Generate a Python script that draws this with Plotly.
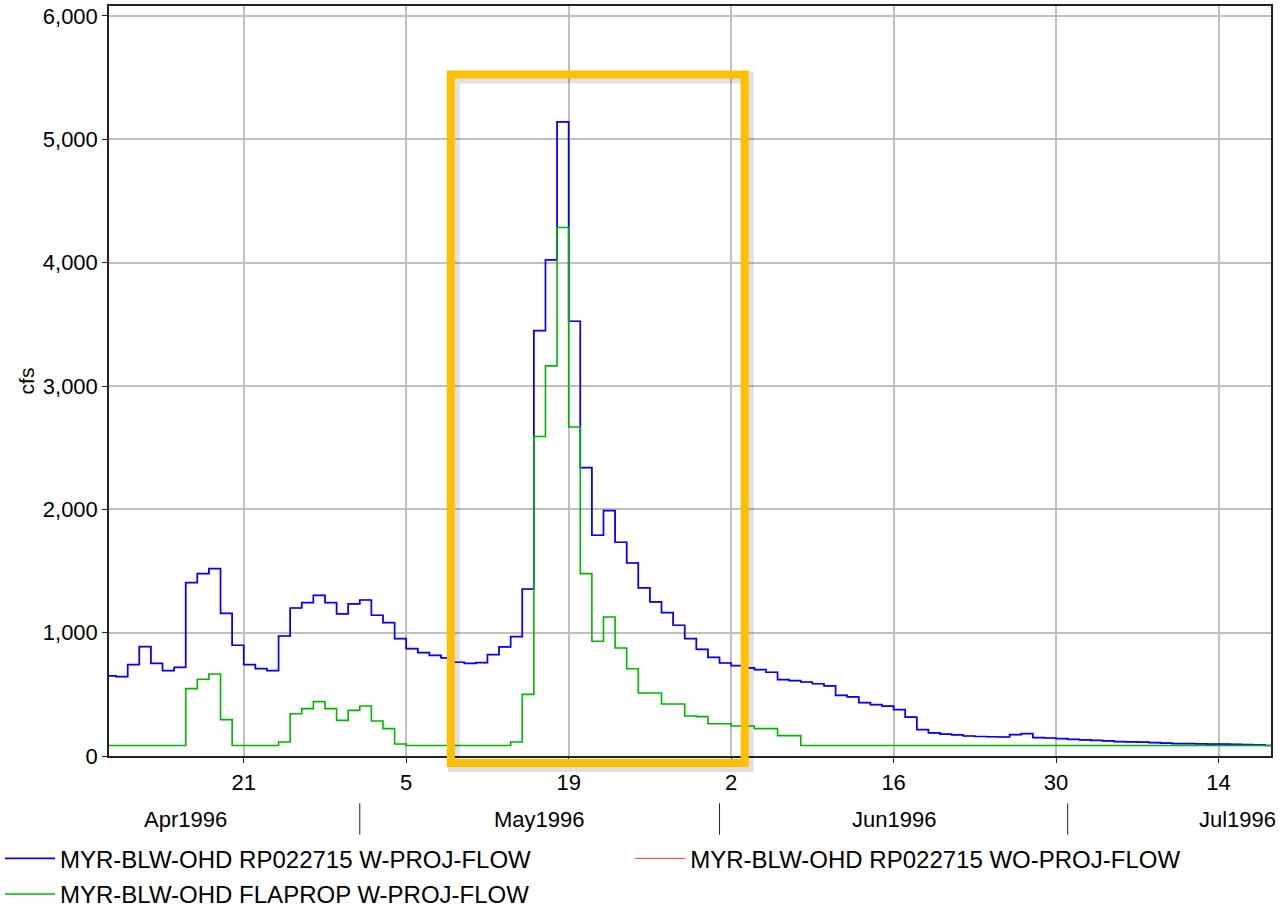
import pandas as pd
import plotly.graph_objects as go

# ---- data (daily flows, cfs) ----
start_date = "1996-04-09"

blue_values = [
    650, 643, 741, 887, 751, 692, 719, 1406, 1479, 1520, 1157, 898,          # Apr 9-20
    741, 709, 692, 973, 1200, 1244, 1303, 1244, 1152, 1233,                 # Apr 21-30
    1265, 1141, 1081, 951, 870, 838, 816, 795, 760, 751, 757, 822, 884, 968, # May 1-14
    1354, 3449, 4023, 5142, 3525, 2338, 1790, 1990, 1733, 1565, 1363, 1249,  # May 15-26
    1163, 1060, 952, 865, 800,                                              # May 27-31
    754, 733, 714, 700, 679, 619, 611, 600, 586, 568, 492, 479, 432, 416,    # Jun 1-14
    405, 376, 316, 214, 187, 178, 172, 162, 158, 156, 154, 173, 181, 149,    # Jun 15-28
    146, 141,                                                               # Jun 29-30
    135, 130, 127, 122, 116, 114, 112, 108, 105, 101, 100, 99, 97, 96, 95,   # Jul 1-15
    92, 90, 85,                                                             # Jul 16-18
]

# WO-PROJ flow coincides with the W-PROJ flow (hidden beneath the blue line)
red_values = [
    650, 643, 741, 887, 751, 692, 719, 1406, 1479, 1520, 1157, 898,
    741, 709, 692, 973, 1200, 1244, 1303, 1244, 1152, 1233,
    1265, 1141, 1081, 951, 870, 838, 816, 795, 760, 751, 757, 822, 884, 968,
    1354, 3449, 4023, 5142, 3525, 2338, 1790, 1990, 1733, 1565, 1363, 1249,
    1163, 1060, 952, 865, 800,
    754, 733, 714, 700, 679, 619, 611, 600, 586, 568, 492, 479, 432, 416,
    405, 376, 316, 214, 187, 178, 172, 162, 158, 156, 154, 173, 181, 149,
    146, 141,
    135, 130, 127, 122, 116, 114, 112, 108, 105, 101, 100, 99, 97, 96, 95,
    92, 90, 85,
]

green_values = [
    85, 85, 85, 85, 85, 85, 85, 546, 622, 665, 295, 85,                     # Apr 9-20
    85, 85, 85, 113, 343, 384, 441, 384, 289, 370,                          # Apr 21-30
    405, 284, 222, 97, 85, 85, 85, 85, 85, 85, 85, 85, 85, 113,              # May 1-14
    500, 2590, 3163, 4285, 2668, 1479, 930, 1127, 876, 708, 511, 511,        # May 15-26
    422, 422, 324, 319, 262,                                                # May 27-31
    262, 243, 243, 222, 222, 165, 165, 85, 85, 85, 85, 85, 85, 85,           # Jun 1-14
    85, 85, 85, 85, 85, 85, 85, 85, 85, 85, 85, 85, 85, 85,                  # Jun 15-28
    85, 85,                                                                 # Jun 29-30
    85, 85, 85, 85, 85, 85, 85, 85, 85, 85, 85, 85, 85, 85, 85,              # Jul 1-15
    85, 85, 85,                                                             # Jul 16-18
]

series_names = [
    "MYR-BLW-OHD RP022715 W-PROJ-FLOW",
    "MYR-BLW-OHD RP022715 WO-PROJ-FLOW",
    "MYR-BLW-OHD FLAPROP W-PROJ-FLOW",
]

tick_dates = ["1996-04-21", "1996-05-05", "1996-05-19", "1996-06-02",
              "1996-06-16", "1996-06-30", "1996-07-14"]
tick_labels = ["21", "5", "19", "2", "16", "30", "14"]

month_label_dates = ["1996-04-16", "1996-05-16 12:00", "1996-06-16", "1996-07-15 16:00"]
month_labels = ["Apr1996", "May1996", "Jun1996", "Jul1996"]
month_boundaries = ["1996-05-01", "1996-06-01", "1996-07-01"]

y_ticks = [0, 1000, 2000, 3000, 4000, 5000, 6000]

x_range = ["1996-04-09 09:20", "1996-07-18 12:30"]
y_range = [0, 6081]

highlight_x = ["1996-05-08 20:15", "1996-06-03 04:00"]

FONT = "Arial, Liberation Sans, sans-serif"


def step_xy(values):
    dates = pd.date_range(start_date, periods=len(values) + 1, freq="D")
    return list(dates), list(values) + [values[-1]]


fig = go.Figure()

xr, yr = step_xy(red_values)
xb, yb = step_xy(blue_values)
xg, yg = step_xy(green_values)

fig.add_trace(go.Scatter(x=xr, y=yr, mode="lines", line=dict(color="#FF0000", width=0.8, shape="hv"),
                         name=series_names[1], legend="legend2"))
fig.add_trace(go.Scatter(x=xb, y=yb, mode="lines", line=dict(color="#0000FF", width=1.7, shape="hv"),
                         name=series_names[0], legend="legend"))
fig.add_trace(go.Scatter(x=xg, y=yg, mode="lines", line=dict(color="#00B400", width=1.6, shape="hv"),
                         name=series_names[2], legend="legend3"))

shapes = []
# month separators under the axis
for d in month_boundaries:
    shapes.append(dict(type="line", xref="x", yref="paper", x0=d, x1=d, y0=-0.063, y1=-0.105,
                       line=dict(color="#222222", width=1)))

# highlight box: shadow then orange frame
shadow_off_days = 3.0 / 11.6
hx0 = pd.Timestamp(highlight_x[0]) + pd.Timedelta(days=shadow_off_days)
hx1 = pd.Timestamp(highlight_x[1]) + pd.Timedelta(days=shadow_off_days)
shapes.append(dict(type="rect", xref="x", yref="paper", x0=hx0, x1=hx1,
                   y0=-0.0093 - 3.0 / 750, y1=0.9087 - 3.0 / 750,
                   line=dict(color="rgba(0,0,0,0.12)", width=12), layer="above"))
shapes.append(dict(type="rect", xref="x", yref="paper", x0=highlight_x[0], x1=highlight_x[1],
                   y0=-0.0093, y1=0.9087,
                   line=dict(color="#FFC000", width=8), layer="above"))

annotations = []
for d, t in zip(month_label_dates, month_labels):
    annotations.append(dict(x=d, xref="x", y=-0.0853, yref="paper", text=t, showarrow=False,
                            font=dict(family=FONT, size=22, color="#000000"),
                            xanchor="center", yanchor="middle"))

legend_common = dict(xref="container", yref="container", xanchor="left", yanchor="middle",
                     orientation="h", font=dict(family=FONT, size=24, color="#000000"),
                     bgcolor="rgba(0,0,0,0)", itemwidth=50)

fig.update_layout(
    width=1282, height=908,
    margin=dict(l=109, r=11, t=6, b=152, autoexpand=False),
    paper_bgcolor="white", plot_bgcolor="white",
    font=dict(family=FONT, color="#000000"),
    shapes=shapes,
    annotations=annotations,
    xaxis=dict(
        range=x_range, type="date",
        tickmode="array", tickvals=tick_dates, ticktext=tick_labels,
        showgrid=True, gridcolor="#C0C0C0", gridwidth=2,
        showline=True, linecolor="#222222", linewidth=1.5, mirror=True,
        ticks="outside", ticklen=5, tickcolor="#222222",
        tickfont=dict(family=FONT, size=22, color="#000000"),
        ticklabelstandoff=1,
        zeroline=False,
    ),
    yaxis=dict(
        range=y_range,
        tickmode="array", tickvals=y_ticks, tickformat=",d",
        showgrid=True, gridcolor="#C0C0C0", gridwidth=2,
        showline=True, linecolor="#222222", linewidth=1.5, mirror=True,
        ticks="outside", ticklen=5, tickcolor="#222222",
        tickfont=dict(family=FONT, size=22, color="#000000"),
        title=dict(text="cfs", font=dict(family=FONT, size=21, color="#000000"), standoff=2),
        zeroline=False,
    ),
    legend=dict(x=-0.0031, y=0.0542, **legend_common),
    legend2=dict(x=0.4916, y=0.0542, **legend_common),
    legend3=dict(x=-0.0031, y=0.0150, **legend_common),
    showlegend=True,
)

fig.write_html("out.html", config={"displayModeBar": False},
               post_script="document.body.style.margin='0px';")
